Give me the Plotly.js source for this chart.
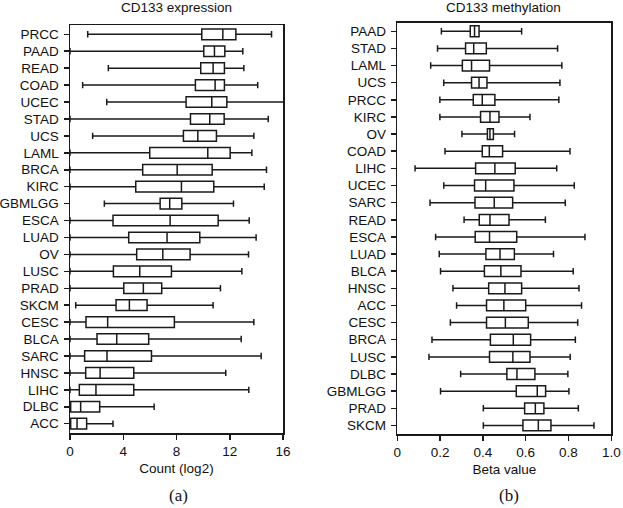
<!DOCTYPE html>
<html>
<head>
<meta charset="utf-8">
<script src="https://cdn.plot.ly/plotly-3.0.1.min.js"></script>
<style>html,body{margin:0;padding:0;background:#fff;}#chart{width:623px;height:508px;}</style>
</head>
<body>
<div id="chart"></div>
<script>
// Panel (a): CD133 expression, Count (log2) — top to bottom
const exprCats = ['PRCC','PAAD','READ','COAD','UCEC','STAD','UCS','LAML','BRCA','KIRC','GBMLGG','ESCA','LUAD','OV','LUSC','PRAD','SKCM','CESC','BLCA','SARC','HNSC','LIHC','DLBC','ACC'];
const exprLow  = [1.33, 0, 2.88, 0.95, 2.76, 0, 1.70, 0, 0, 0, 2.58, 0, 0, 0, 0, 0, 0.43, 0, 0, 0, 0, 0, 0, 0];
const exprQ1   = [9.90, 10.05, 9.82, 9.42, 8.72, 9.05, 8.52, 5.99, 5.46, 4.94, 6.77, 3.23, 4.41, 5.01, 3.26, 4.04, 3.46, 1.20, 2.03, 1.10, 1.18, 0.70, 0.05, 0.05];
const exprMed  = [11.48, 10.85, 10.75, 10.90, 10.65, 10.50, 9.60, 10.35, 8.05, 8.37, 7.49, 7.52, 7.29, 6.97, 5.24, 5.51, 4.46, 2.83, 3.51, 2.78, 2.26, 1.95, 0.80, 0.53];
const exprQ3   = [12.46, 11.63, 11.60, 11.60, 11.78, 11.58, 11.00, 12.03, 10.68, 10.80, 8.40, 11.13, 9.75, 9.02, 7.62, 6.89, 5.79, 7.84, 5.91, 6.12, 4.79, 4.79, 2.23, 1.25];
const exprHigh = [15.14, 12.98, 13.06, 14.10, 16.6, 14.89, 13.81, 13.66, 14.76, 14.59, 12.28, 13.46, 13.98, 13.41, 12.91, 11.30, 10.75, 13.81, 12.86, 14.36, 11.70, 13.43, 6.32, 3.23];

// Panel (b): CD133 methylation, Beta value — top to bottom
const methCats = ['PAAD','STAD','LAML','UCS','PRCC','KIRC','OV','COAD','LIHC','UCEC','SARC','READ','ESCA','LUAD','BLCA','HNSC','ACC','CESC','BRCA','LUSC','DLBC','GBMLGG','PRAD','SKCM'];
const methLow  = [0.206, 0.188, 0.156, 0.217, 0.199, 0.199, 0.302, 0.223, 0.083, 0.217, 0.153, 0.312, 0.179, 0.196, 0.202, 0.260, 0.277, 0.248, 0.162, 0.148, 0.296, 0.202, 0.402, 0.402];
const methQ1   = [0.341, 0.319, 0.304, 0.347, 0.355, 0.389, 0.421, 0.397, 0.366, 0.361, 0.363, 0.383, 0.364, 0.414, 0.407, 0.427, 0.417, 0.417, 0.435, 0.431, 0.512, 0.556, 0.595, 0.587];
const methMed  = [0.361, 0.357, 0.347, 0.382, 0.397, 0.433, 0.433, 0.430, 0.456, 0.413, 0.453, 0.433, 0.431, 0.480, 0.484, 0.503, 0.498, 0.505, 0.542, 0.540, 0.559, 0.654, 0.645, 0.659];
const methQ3   = [0.382, 0.416, 0.431, 0.419, 0.456, 0.475, 0.449, 0.492, 0.551, 0.545, 0.539, 0.522, 0.558, 0.547, 0.578, 0.581, 0.600, 0.612, 0.623, 0.620, 0.643, 0.693, 0.685, 0.718];
const methHigh = [0.581, 0.749, 0.769, 0.760, 0.755, 0.620, 0.548, 0.807, 0.745, 0.827, 0.785, 0.692, 0.877, 0.730, 0.822, 0.849, 0.861, 0.843, 0.832, 0.808, 0.797, 0.802, 0.846, 0.919];

const exprTicks = [0, 4, 8, 12, 16];
const exprTickText = ['0', '4', '8', '12', '16'];
const methTicks = [0, 0.2, 0.4, 0.6, 0.8, 1.0];
const methTickText = ['0', '0.2', '0.4', '0.6', '0.8', '1.0'];

const INK = '#1a1a1a';
const FONT = 'Liberation Sans, Arial, sans-serif';

function boxTrace(cats, lo, q1, med, q3, hi, xa, ya) {
  return {
    type: 'box', orientation: 'h',
    y: cats, q1: q1, median: med, q3: q3, lowerfence: lo, upperfence: hi,
    xaxis: xa, yaxis: ya,
    boxpoints: false,
    width: 0.63, whiskerwidth: 0.6,
    fillcolor: '#ffffff',
    line: {color: INK, width: 1.5},
    showlegend: false, hoverinfo: 'skip'
  };
}

const data = [
  boxTrace(exprCats, exprLow, exprQ1, exprMed, exprQ3, exprHigh, 'x', 'y'),
  boxTrace(methCats, methLow, methQ1, methMed, methQ3, methHigh, 'x2', 'y2')
];

const axBase = {
  showline: true, mirror: true, linecolor: INK, linewidth: 1.5,
  showgrid: false, zeroline: false,
  ticks: 'outside', ticklen: 5, tickwidth: 1.5, tickcolor: INK,
  tickfont: {family: FONT, size: 13.5, color: '#111'}
};

const layout = {
  width: 623, height: 508,
  margin: {l: 0, r: 0, t: 0, b: 0},
  paper_bgcolor: '#ffffff', plot_bgcolor: '#ffffff',
  font: {family: FONT, size: 13.5, color: '#111'},
  xaxis: Object.assign({}, axBase, {
    domain: [70/623, 283/623], anchor: 'y', range: [0, 16],
    tickvals: exprTicks, ticktext: exprTickText,
    title: {text: 'Count (log2)', font: {family: FONT, size: 13.5, color: '#111'}, standoff: 6}
  }),
  yaxis: Object.assign({}, axBase, {
    domain: [1 - 433/508, 1 - 25/508], anchor: 'x',
    type: 'category', categoryorder: 'array', categoryarray: exprCats,
    range: [23.55, -0.55], ticklabelstandoff: 2
  }),
  xaxis2: Object.assign({}, axBase, {
    domain: [397.3/623, 611.3/623], anchor: 'y2', range: [0, 1],
    tickvals: methTicks, ticktext: methTickText,
    title: {text: 'Beta value', font: {family: FONT, size: 13.5, color: '#111'}, standoff: 6}
  }),
  yaxis2: Object.assign({}, axBase, {
    domain: [1 - 434/508, 1 - 22.7/508], anchor: 'x2',
    type: 'category', categoryorder: 'array', categoryarray: methCats,
    range: [23.5, -0.5], ticklabelstandoff: 2
  }),
  annotations: [
    {text: 'CD133 expression', xref: 'paper', yref: 'paper', x: 176.5/623, y: 1 - 8/508, xanchor: 'center', yanchor: 'middle', showarrow: false, font: {family: FONT, size: 13.5, color: '#111'}},
    {text: 'CD133 methylation', xref: 'paper', yref: 'paper', x: 503/623, y: 1 - 7.5/508, xanchor: 'center', yanchor: 'middle', showarrow: false, font: {family: FONT, size: 13.5, color: '#111'}},
    {text: '(a)', xref: 'paper', yref: 'paper', x: 178/623, y: 1 - 495/508, xanchor: 'center', yanchor: 'middle', showarrow: false, font: {family: 'Liberation Serif, Times New Roman, serif', size: 17, color: '#111'}},
    {text: '(b)', xref: 'paper', yref: 'paper', x: 509/623, y: 1 - 495/508, xanchor: 'center', yanchor: 'middle', showarrow: false, font: {family: 'Liberation Serif, Times New Roman, serif', size: 17, color: '#111'}}
  ]
};

Plotly.newPlot('chart', data, layout, {displayModeBar: false, staticPlot: true});
</script>
</body>
</html>
